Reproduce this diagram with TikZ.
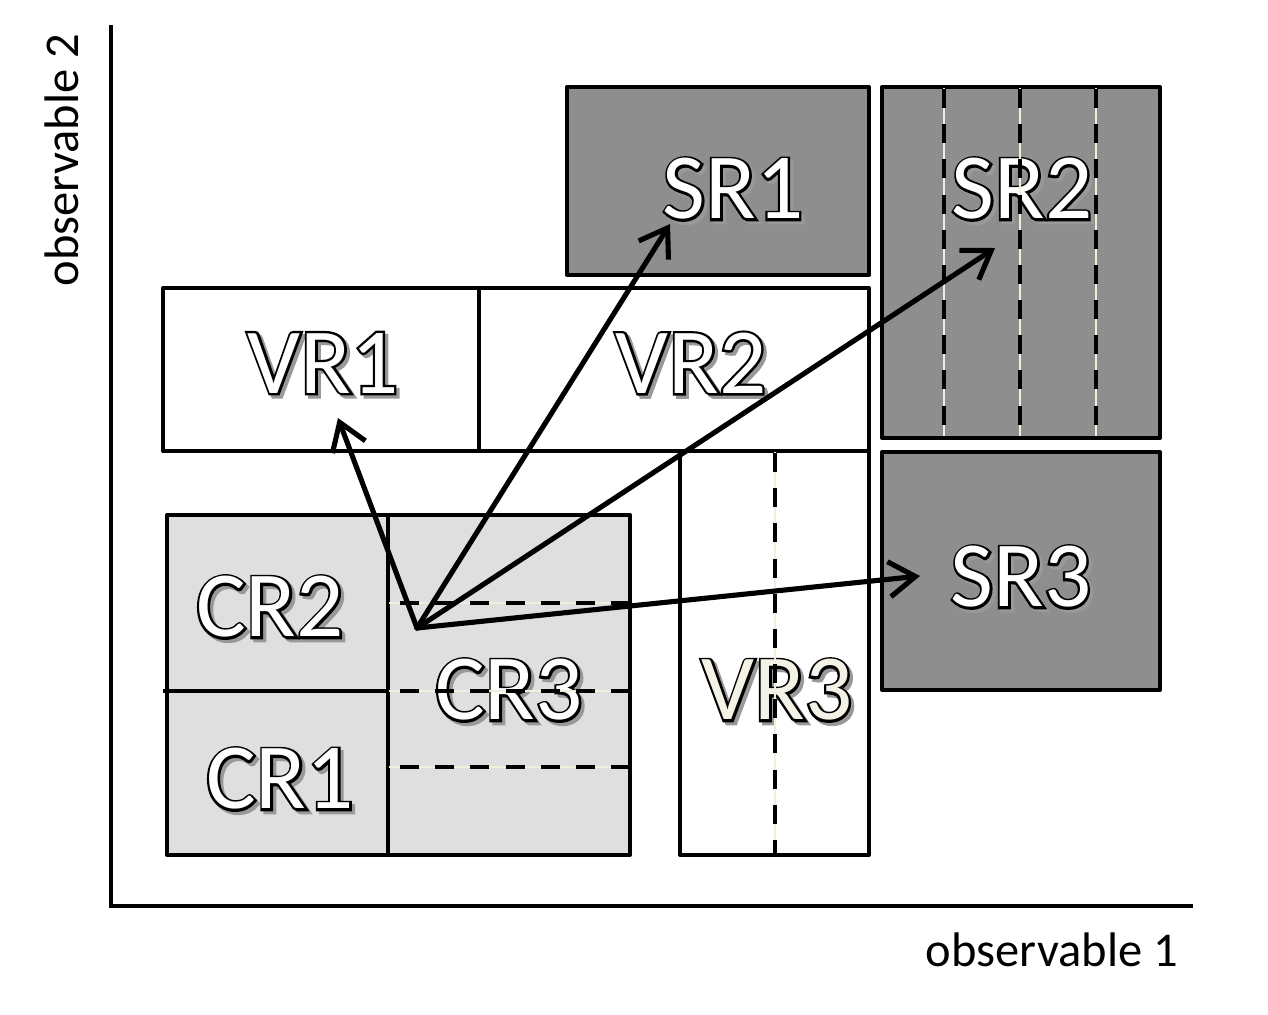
\documentclass[tikz,border=0pt]{standalone}
\usepackage{fontspec}
\setmainfont{Carlito}
\newfontfamily\lblfont{Carlito}
\newfontfamily\lbloutline[FakeBold=5]{Carlito}
\usetikzlibrary{arrows.meta}

\definecolor{srgray}{HTML}{8E8E8E}
\definecolor{crgray}{HTML}{DFDFDF}
\definecolor{cream}{HTML}{F4F2E6}
\definecolor{dashlight}{HTML}{EFEFDC}

\tikzset{
  region/.style={draw=black, line width=1.15pt, line join=round},
  sigreg/.style={region, fill=srgray},
  ctrlreg/.style={region, fill=crgray},
  valreg/.style={region, fill=white},
  lbl/.style={font=\lblfont\fontsize{26.5}{30}\selectfont, inner sep=0pt},
  lblline/.style={font=\lbloutline\fontsize{26.5}{30}\selectfont, inner sep=0pt},
  divline/.style={line width=1.15pt, dash pattern=on 5.4pt off 4.6pt},
  lightline/.style={line width=0.35pt, draw=dashlight},
  flow/.style={line width=1.45pt, line cap=round, -{Straight Barb[length=7.5pt,width=10pt]}},
  axisline/.style={line width=1.15pt},
  axlbl/.style={font=\fontsize{13.8}{16}\selectfont, inner sep=0pt},
}

\newcommand\regionlabel[4]{%
  \node[lblline, text=black!40, xshift=0.9pt, yshift=-0.9pt] at (#2) {#3};
  \node[lblline, text=black] at (#2) {#3};
  \node[lbl, text=#4] (#1) at (#2) {#3};
}

\begin{document}
\begin{tikzpicture}[x=0.01cm, y=-0.01cm]
  \useasboundingbox[fill=white] (0,0) rectangle (1268,1014);

  % axes
  \draw[axisline] (111,25) -- (111,906) -- (1193,906);
  \node[axlbl] (ax1) at (1052,950) {observable 1};
  \node[axlbl, rotate=90] (ax2) at (62,160) {observable 2};

  % signal regions
  \draw[sigreg] (567,87) rectangle (869,275);
  \draw[sigreg] (882,87) rectangle (1160,438);
  \draw[sigreg] (882,452) rectangle (1160,690);

  % validation regions
  \draw[valreg] (163,288) rectangle (479,451);
  \draw[valreg] (479,288) rectangle (869,451);
  \draw[valreg] (680,451) rectangle (869,855);

  % control regions
  \draw[ctrlreg] (167,515) rectangle (388,855);
  \draw[ctrlreg] (388,515) rectangle (630,855);
  \draw[region] (163,691) -- (388,691);

  % labels
  \regionlabel{sr1}{733,189}{SR1}{white}
  \regionlabel{sr2}{1022,189}{SR2}{white}
  \regionlabel{sr3}{1021,577}{SR3}{white}
  \regionlabel{vr1}{323,363}{VR1}{white}
  \regionlabel{vr2}{691,363}{VR2}{white}
  \regionlabel{vr3}{777,690}{VR3}{cream}
  \regionlabel{cr2}{270,607}{CR2}{white}
  \regionlabel{cr3}{509,690}{CR3}{white}
  \regionlabel{cr1}{280,779}{CR1}{white}

  % dashed subdivisions
  \foreach \xx in {944,1020,1096} {
    \draw[lightline] (\xx,88) -- (\xx,436);
    \draw[divline] (\xx,89) -- (\xx,432);
  }
  \draw[lightline] (775,452) -- (775,854);
  \draw[divline] (775,453) -- (775,855);
  \foreach \yy in {603,691,767} {
    \draw[lightline] (389,\yy) -- (629,\yy);
    \draw[divline] (400,\yy) -- (630,\yy);
  }

  % extrapolation arrows
  \coordinate (o) at (417,628);
  \coordinate (tvr1) at (338,418);
  \coordinate (tsr1) at (670,224);
  \coordinate (tsr2) at (995,248);
  \coordinate (tsr3) at (920,576);
  \draw[flow] (o) -- (tvr1);
  \draw[flow] (o) -- (tsr1);
  \draw[flow] (o) -- (tsr2);
  \draw[flow] (o) -- (tsr3);
\end{tikzpicture}
\end{document}
